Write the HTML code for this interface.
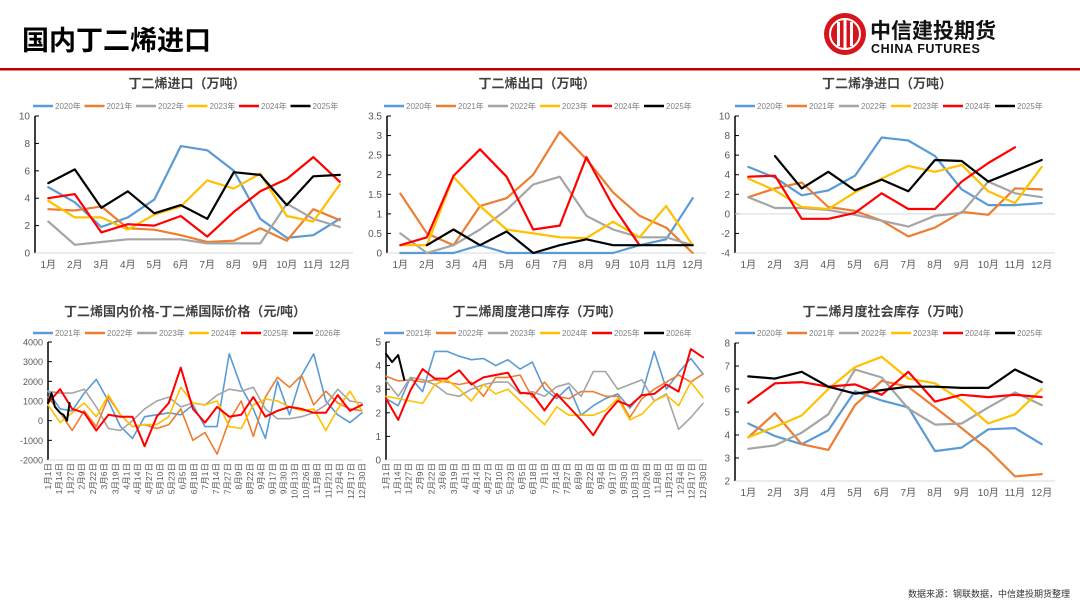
<!DOCTYPE html>
<html><head><meta charset="utf-8">
<style>
html,body{margin:0;padding:0;background:#fff;}
svg{display:block;font-family:"Liberation Sans","Noto Sans CJK SC",sans-serif;}
</style></head>
<body>
<svg id="root" width="1080" height="608" viewBox="0 0 1080 608" xmlns="http://www.w3.org/2000/svg">
  <text x="22" y="50" font-size="27" font-weight="bold" fill="#000" font-family="'Liberation Sans','Noto Sans CJK SC',sans-serif">国内丁二烯进口</text>
  <rect x="0" y="68" width="1080" height="2.5" fill="#C00000"/>
  <g>
    <circle cx="845" cy="34" r="21" fill="#D7141A"/>
    <circle cx="845" cy="34" r="15" fill="none" stroke="#fff" stroke-width="2"/>
    <rect x="837" y="22" width="3" height="24" fill="#fff"/>
    <rect x="843.5" y="18" width="3" height="32" fill="#fff"/>
    <rect x="850" y="22" width="3" height="24" fill="#fff"/>
    <text x="870" y="38" font-size="21" font-weight="bold" fill="#111">中信建投期货</text>
    <text x="871" y="53" font-size="12.5" font-weight="bold" fill="#111" letter-spacing="0.6">CHINA FUTURES</text>
  </g>
  <text x="1070" y="597" font-size="9" fill="#333" text-anchor="end">数据来源：钢联数据，中信建投期货整理</text>
</svg>
<script>
// ---------- data ----------
const monthLabels = ["1月","2月","3月","4月","5月","6月","7月","8月","9月","10月","11月","12月"];
const yearsA = ["2020年","2021年","2022年","2023年","2024年","2025年"];
const yearsB = ["2021年","2022年","2023年","2024年","2025年","2026年"];

const imp2020 = [4.8,3.7,1.9,2.6,3.9,7.8,7.5,6.0,2.5,1.1,1.3,2.5];
const imp2021 = [3.2,3.1,3.4,1.8,1.7,1.3,0.8,0.9,1.8,0.9,3.2,2.4];
const imp2022 = [2.3,0.6,0.8,1.0,1.0,1.0,0.7,0.7,0.7,3.6,2.5,1.9];
const imp2023 = [3.8,2.6,2.6,1.7,2.8,3.4,5.3,4.7,5.8,2.7,2.3,5.0];
const imp2024 = [4.0,4.3,1.5,2.1,2.0,2.7,1.2,3.0,4.5,5.4,7.0,5.2];
const imp2025 = [5.1,6.1,3.3,4.5,2.9,3.5,2.5,5.9,5.7,3.5,5.6,5.7];
const impTicks = [0,2,4,6,8,10];

const exp2020 = [0,0,0,0.2,0,0,0,0,0,0.2,0.35,1.4];
const exp2021 = [1.52,0.5,0.2,1.2,1.4,2.0,3.1,2.4,1.55,0.95,0.65,0];
const exp2022 = [0.5,0,0.2,0.6,1.1,1.75,1.95,0.95,0.6,0.4,0.4,0.2];
const exp2023 = [0.2,0.2,1.95,1.2,0.6,0.5,0.4,0.38,0.8,0.4,1.2,0.2];
const exp2024 = [0.2,0.4,1.97,2.65,1.95,0.6,0.7,2.45,1.2,0.2,null,null];
const exp2025 = [null,0.2,0.6,0.2,0.55,0,0.2,0.35,0.2,0.2,0.2,0.2];
const expTicks = [0,0.5,1,1.5,2,2.5,3,3.5];

const net2020 = [4.8,3.7,1.9,2.4,3.9,7.8,7.5,5.9,2.5,0.9,0.9,1.1];
const net2021 = [1.7,2.6,3.2,0.7,0.3,-0.7,-2.3,-1.4,0.2,-0.1,2.6,2.5];
const net2022 = [1.7,0.6,0.6,0.4,-0.1,-0.7,-1.3,-0.2,0.1,3.3,2.1,1.7];
const net2023 = [3.6,2.4,0.7,0.5,2.2,3.6,4.9,4.3,5.0,2.3,1.1,4.8];
const net2024 = [3.8,3.9,-0.5,-0.5,0.1,2.1,0.5,0.5,3.3,5.2,6.8,null];
const net2025 = [null,5.9,2.6,4.3,2.4,3.5,2.3,5.5,5.4,3.3,4.4,5.5];
const netTicks = [-4,-2,0,2,4,6,8,10];

const soc2020 = [4.5,3.95,3.6,4.2,5.9,5.5,5.2,3.3,3.45,4.25,4.3,3.6];
const soc2021 = [3.9,4.95,3.6,3.35,5.3,6.35,6.1,5.2,4.3,3.35,2.2,2.3];
const soc2022 = [3.4,3.55,4.1,4.9,6.85,6.5,5.15,4.45,4.5,5.2,5.85,5.3];
const soc2023 = [3.9,4.35,4.85,6.0,6.95,7.4,6.45,6.25,5.5,4.5,4.9,6.0];
const soc2024 = [5.4,6.25,6.3,6.1,6.2,5.75,6.75,5.45,5.75,5.65,5.75,5.65];
const soc2025 = [6.55,6.45,6.75,6.1,5.8,5.95,6.1,6.1,6.05,6.05,6.85,6.3];
const socTicks = [2,3,4,5,6,7,8];

const dateLabels = ["1月1日","1月14日","1月27日","2月9日","2月22日","3月6日","3月19日","4月1日","4月14日","4月27日","5月10日","5月23日","6月5日","6月18日","7月1日","7月14日","7月27日","8月9日","8月22日","9月4日","9月17日","9月30日","10月13日","10月26日","11月8日","11月21日","12月4日","12月17日","12月30日"];

const spr2021 = [1500,600,500,1400,2100,1000,-300,-900,200,300,400,300,800,-300,-300,3400,1700,600,-900,2000,300,2300,3400,1000,300,-100,400];
const spr2022 = [1200,400,-500,500,-300,1200,300,-300,-200,-400,-200,600,-1000,-600,-1700,0,1000,-800,1200,2200,1700,2300,800,1500,900,600,500];
const spr2023 = [1500,1400,1400,1600,700,-400,-500,0,600,1000,1200,700,900,800,1300,1600,1500,1700,600,100,100,200,400,800,1600,1000,900];
const spr2024 = [800,-100,400,900,200,1300,300,-300,-200,-200,200,1700,900,800,1000,-300,-400,800,1100,1000,700,500,600,-500,600,1500,500];
const spr2025 = [900,1600,600,400,-500,300,200,200,-1300,200,900,2700,600,-100,700,200,300,1200,200,500,700,600,400,400,1300,500,800];
const spr2026Days = [0,4,8,14,18,22,25];
const spr2026 = [900,1400,700,400,300,0,900];
const sprTicks = [-2000,-1000,0,1000,2000,3000,4000];

const port2021 = [2.6,2.3,3.5,2.9,4.6,4.6,4.4,4.25,4.3,4.0,4.25,3.85,4.15,3.0,2.6,3.1,1.9,2.3,2.6,2.8,2.2,2.8,4.6,3.0,3.7,4.3,3.65];
const port2022 = [3.55,3.35,3.4,3.3,3.4,3.3,3.2,3.3,2.7,3.5,3.5,3.6,2.65,3.3,2.7,2.6,2.9,2.9,2.7,2.7,1.8,2.6,3.0,3.3,3.6,3.3,3.65];
const port2023 = [3.35,2.7,3.5,3.4,3.2,2.8,2.7,3.0,3.2,3.3,3.3,2.8,2.9,2.7,3.1,3.25,2.7,3.75,3.75,3.0,3.2,3.4,2.5,2.8,1.3,1.8,2.4];
const port2024 = [2.7,2.6,2.5,2.4,3.2,3.4,3.0,2.5,3.2,2.8,3.0,2.5,2.0,1.5,2.25,1.9,1.9,1.9,2.1,2.6,1.7,1.95,2.5,2.75,2.3,3.3,2.65];
const port2025 = [2.6,1.7,2.95,3.85,3.45,3.45,3.8,3.2,3.5,3.6,3.7,2.85,2.8,2.1,2.8,2.25,1.7,1.05,1.9,2.5,2.3,2.75,2.8,3.2,2.9,4.7,4.35];
const port2026Days = [0,7,14,21];
const port2026 = [4.5,4.15,4.45,3.4];
const portTicks = [0,1,2,3,4,5];

const colors = ["#5B9BD5","#ED7D31","#A5A5A5","#FFC000","#FF0000","#000000"];

// ---------- helpers ----------
const NS = "http://www.w3.org/2000/svg";
const root = document.getElementById("root");
function mk(tag, attrs, parent){
  const e = document.createElementNS(NS, tag);
  for (const k in attrs) e.setAttribute(k, attrs[k]);
  (parent||root).appendChild(e);
  return e;
}
function txt(str, attrs, parent){ const t = mk("text", attrs, parent); t.textContent = str; return t; }

function frame(g, cfg){
  const t = txt(cfg.title, {x:cfg.titleX, y:cfg.titleY, "font-size":13, "font-weight":"bold", fill:"#404040", "text-anchor":"middle"}, g);
  
  
  const lg = mk("g", {}, g);
  
  
  cfg.names.forEach((n,i)=>{
    const lx = cfg.legX + i*cfg.legStep;
    const ent = mk("g", {}, lg);
    
    
    mk("line", {x1:lx, y1:cfg.legY, x2:lx+20, y2:cfg.legY, stroke:colors[i], "stroke-width":2.5}, ent);
    txt(n, {x:lx+22, y:cfg.legY+3, "font-size":8, fill:"#7f7f7f"}, ent);
  });
  const ya = mk("g", {}, g);
  
  
  mk("line", {x1:cfg.x0, y1:cfg.y(cfg.ticks[cfg.ticks.length-1]), x2:cfg.x0, y2:cfg.y(cfg.ticks[0]), stroke:"#000", "stroke-width":1.5}, ya);
  cfg.ticks.forEach(v=>{
    const yy = cfg.y(v);
    mk("line", {x1:cfg.x0, y1:yy, x2:cfg.x0+4, y2:yy, stroke:"#000", "stroke-width":1}, ya);
    const tl = txt(String(v), {x:cfg.x0-5, y:yy+3.5, "font-size":cfg.tickFont||10, fill:"#595959", "text-anchor":"end"}, ya);
    
    
  });
  if (cfg.zeroLine) {
    const zl = mk("line", {x1:cfg.x0, y1:cfg.y(0), x2:cfg.x1, y2:cfg.y(0), stroke:"#d9d9d9", "stroke-width":1}, g);
    
    
  }
}
function drawLine(g, pts, color, w){
  let d = "", pen = false;
  pts.forEach(p=>{
    if (p[1]==null || isNaN(p[1])) { pen=false; return; }
    d += (pen?"L":"M") + p[0].toFixed(1) + "," + p[1].toFixed(1);
    pen = true;
  });
  return mk("path", {d:d, fill:"none", stroke:color, "stroke-width":w, "stroke-linejoin":"round", "stroke-linecap":"round"}, g);
}

function monthChart(cfg){
  const g = mk("g", {});
  
  
  const tmin = cfg.ticks[0], tmax = cfg.ticks[cfg.ticks.length-1];
  cfg.y = v => cfg.yBot - (v - tmin)/(tmax - tmin)*(cfg.yBot - cfg.yTop);
  const bw = (cfg.x1 - cfg.x0)/monthLabels.length;
  const xs = i => cfg.x0 + (i+0.5)*bw;
  frame(g, cfg);
  const xa = mk("g", {}, g);
  
  
  mk("line", {x1:cfg.x0, y1:cfg.yBot, x2:cfg.x1, y2:cfg.yBot, stroke:"#d9d9d9", "stroke-width":1}, xa);
  monthLabels.forEach((m,i)=>{
    const tl = txt(m, {x:xs(i), y:cfg.yBot+15, "font-size":10, fill:"#595959", "text-anchor":"middle"}, xa);
    
    
  });
  cfg.series.forEach((s,k)=>{
    const p = drawLine(g, s.map((v,i)=>[xs(i), v==null?null:cfg.y(v)]), colors[k], 2.2);
    
    
  });
}

function dateChart(cfg){
  const g = mk("g", {});
  
  
  const tmin = cfg.ticks[0], tmax = cfg.ticks[cfg.ticks.length-1];
  cfg.y = v => cfg.yBot - (v - tmin)/(tmax - tmin)*(cfg.yBot - cfg.yTop);
  const xd = d => cfg.x0 + d/364*(cfg.x1 - cfg.x0);
  frame(g, cfg);
  const xa = mk("g", {}, g);
  
  
  mk("line", {x1:cfg.x0, y1:cfg.yBot, x2:cfg.x1, y2:cfg.yBot, stroke:"#d9d9d9", "stroke-width":1}, xa);
  dateLabels.forEach((lab,i)=>{
    const xx = xd(i*13) + 3;
    const tl = txt(lab, {x:0, y:0, "font-size":8.5, fill:"#595959", "text-anchor":"end", transform:"translate("+xx+","+(cfg.labY)+") rotate(-90)"}, xa);
    
    
  });
  cfg.series.forEach((s,k)=>{
    const days = s.days || s.vals.map((v,i)=>i*14);
    const p = drawLine(g, s.vals.map((v,i)=>[xd(days[i]), cfg.y(v)]), colors[k], k===4||k===5?2:1.6);
    
    
  });
}

// ---------- charts ----------
monthChart({name:"import-chart", title:"丁二烯进口（万吨）", titleX:187, titleY:88, names:yearsA,
  legX:33, legY:106, legStep:51.5, x0:35, x1:353, yTop:116, yBot:253, ticks:impTicks,
  series:[imp2020,imp2021,imp2022,imp2023,imp2024,imp2025]});
monthChart({name:"export-chart", title:"丁二烯出口（万吨）", titleX:537, titleY:88, names:yearsA,
  legX:384, legY:106, legStep:52, x0:387, x1:706, yTop:116, yBot:253, ticks:expTicks,
  series:[exp2020,exp2021,exp2022,exp2023,exp2024,exp2025]});
monthChart({name:"net-import-chart", title:"丁二烯净进口（万吨）", titleX:887, titleY:88, names:yearsA,
  legX:735, legY:106, legStep:52, x0:735, x1:1055, yTop:116, yBot:253, ticks:netTicks, zeroLine:true,
  series:[net2020,net2021,net2022,net2023,net2024,net2025]});
monthChart({name:"social-inventory-chart", title:"丁二烯月度社会库存（万吨）", titleX:887, titleY:316, names:yearsA,
  legX:735, legY:333, legStep:52, x0:735, x1:1055, yTop:343, yBot:481, ticks:socTicks,
  series:[soc2020,soc2021,soc2022,soc2023,soc2024,soc2025]});
dateChart({name:"price-spread-chart", title:"丁二烯国内价格-丁二烯国际价格（元/吨）", titleX:185, titleY:316, names:yearsB,
  legX:33, legY:333, legStep:52, x0:48, x1:362, yTop:342, yBot:460, ticks:sprTicks, tickFont:9, labY:463,
  series:[{vals:spr2021},{vals:spr2022},{vals:spr2023},{vals:spr2024},{vals:spr2025},{vals:spr2026, days:spr2026Days}]});
dateChart({name:"port-inventory-chart", title:"丁二烯周度港口库存（万吨）", titleX:537, titleY:316, names:yearsB,
  legX:384, legY:333, legStep:52, x0:386, x1:703, yTop:342, yBot:460, ticks:portTicks, labY:463,
  series:[{vals:port2021},{vals:port2022},{vals:port2023},{vals:port2024},{vals:port2025},{vals:port2026, days:port2026Days}]});
</script>
</body></html>
